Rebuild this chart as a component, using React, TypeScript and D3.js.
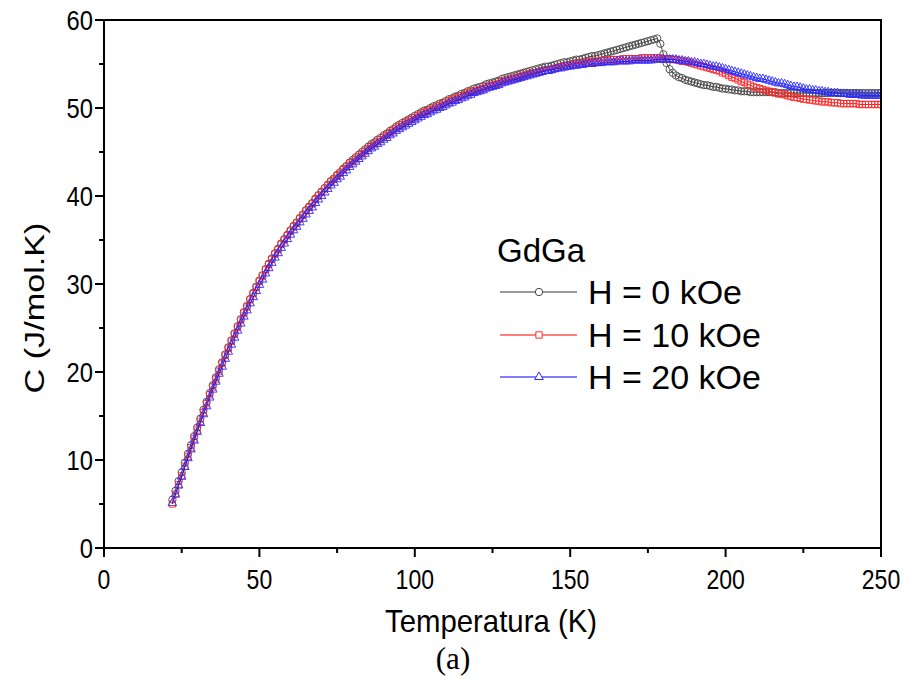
import React from 'react';
import * as d3 from 'd3';

// Measurement grid (K), one point per kelvin from 22 K to 250 K
const temperatures: number[] = d3.range(22, 251);

// C (J/mol.K), H = 0 kOe
const cH0: number[] = [
  5.5, 6.5, 7.6, 8.6, 9.7, 10.7, 11.7, 12.7,
  13.7, 14.7, 15.7, 16.6, 17.6, 18.5, 19.4, 20.3, 21.1, 22.0,
  22.8, 23.6, 24.4, 25.2, 26.0, 26.8, 27.5, 28.3, 29.0, 29.7,
  30.4, 31.0, 31.7, 32.3, 32.9, 33.5, 34.0, 34.6, 35.1, 35.6,
  36.1, 36.6, 37.0, 37.5, 37.9, 38.4, 38.8, 39.2, 39.7, 40.1,
  40.5, 40.9, 41.3, 41.7, 42.0, 42.4, 42.7, 43.1, 43.4, 43.8,
  44.1, 44.4, 44.7, 45.0, 45.3, 45.6, 45.9, 46.1, 46.4, 46.6,
  46.9, 47.1, 47.4, 47.6, 47.9, 48.1, 48.3, 48.5, 48.7, 48.9,
  49.1, 49.3, 49.5, 49.7, 49.8, 50.0, 50.2, 50.3, 50.5, 50.6,
  50.8, 51.0, 51.1, 51.3, 51.4, 51.6, 51.7, 51.9, 52.0, 52.2,
  52.3, 52.4, 52.5, 52.7, 52.8, 52.9, 53.0, 53.1, 53.3, 53.4,
  53.5, 53.6, 53.7, 53.8, 53.9, 54.0, 54.1, 54.2, 54.3, 54.4,
  54.5, 54.6, 54.7, 54.7, 54.8, 54.9, 55.0, 55.1, 55.2, 55.2,
  55.3, 55.4, 55.5, 55.5, 55.6, 55.7, 55.8, 55.9, 55.9, 56.0,
  56.1, 56.2, 56.3, 56.4, 56.5, 56.6, 56.7, 56.8, 56.9, 57.0,
  57.1, 57.2, 57.3, 57.4, 57.5, 57.6, 57.7, 57.8, 57.9, 57.3,
  56.1, 55.1, 54.4, 54.0, 53.7, 53.5, 53.4, 53.2, 53.1, 53.0,
  52.9, 52.8, 52.7, 52.6, 52.6, 52.5, 52.4, 52.4, 52.3, 52.2,
  52.2, 52.1, 52.1, 52.0, 52.0, 51.9, 51.9, 51.9, 51.8, 51.8,
  51.8, 51.8, 51.8, 51.8, 51.8, 51.8, 51.8, 51.7, 51.7, 51.7,
  51.7, 51.7, 51.7, 51.7, 51.7, 51.7, 51.7, 51.7, 51.7, 51.7,
  51.7, 51.7, 51.7, 51.7, 51.7, 51.7, 51.7, 51.7, 51.7, 51.7,
  51.7, 51.7, 51.7, 51.7, 51.7, 51.7, 51.7, 51.7, 51.7, 51.7,
  51.7,
];

// H = 10 kOe
const cH10: number[] = [
  5.0, 6.1, 7.2, 8.2, 9.3, 10.4, 11.4, 12.4,
  13.4, 14.4, 15.4, 16.4, 17.4, 18.3, 19.2, 20.1, 21.0, 21.9,
  22.7, 23.5, 24.3, 25.1, 25.9, 26.7, 27.4, 28.2, 28.9, 29.6,
  30.3, 30.9, 31.6, 32.2, 32.8, 33.4, 33.9, 34.5, 35.0, 35.5,
  36.0, 36.5, 36.9, 37.4, 37.8, 38.3, 38.7, 39.1, 39.6, 40.0,
  40.4, 40.8, 41.2, 41.6, 41.9, 42.3, 42.6, 43.0, 43.3, 43.6,
  43.9, 44.2, 44.5, 44.8, 45.1, 45.4, 45.7, 45.9, 46.2, 46.4,
  46.7, 46.9, 47.2, 47.4, 47.7, 47.9, 48.1, 48.3, 48.5, 48.7,
  48.9, 49.1, 49.3, 49.5, 49.6, 49.8, 50.0, 50.1, 50.3, 50.4,
  50.6, 50.8, 50.9, 51.1, 51.2, 51.4, 51.5, 51.7, 51.8, 51.9,
  52.0, 52.1, 52.2, 52.4, 52.5, 52.6, 52.7, 52.8, 53.0, 53.1,
  53.2, 53.3, 53.4, 53.5, 53.6, 53.7, 53.8, 53.9, 54.0, 54.0,
  54.1, 54.2, 54.3, 54.3, 54.4, 54.5, 54.6, 54.7, 54.8, 54.8,
  54.9, 55.0, 55.0, 55.1, 55.1, 55.2, 55.2, 55.3, 55.3, 55.3,
  55.4, 55.4, 55.4, 55.5, 55.5, 55.5, 55.5, 55.6, 55.6, 55.6,
  55.6, 55.6, 55.6, 55.7, 55.7, 55.7, 55.7, 55.7, 55.7, 55.7,
  55.6, 55.6, 55.6, 55.5, 55.5, 55.4, 55.3, 55.3, 55.2, 55.1,
  55.0, 54.9, 54.8, 54.7, 54.6, 54.5, 54.4, 54.3, 54.2, 54.0,
  53.9, 53.7, 53.5, 53.4, 53.2, 53.0, 52.9, 52.7, 52.6, 52.4,
  52.3, 52.2, 52.1, 52.0, 51.9, 51.8, 51.7, 51.6, 51.6, 51.5,
  51.4, 51.3, 51.2, 51.2, 51.1, 51.0, 51.0, 50.9, 50.9, 50.8,
  50.8, 50.7, 50.7, 50.7, 50.6, 50.6, 50.6, 50.5, 50.5, 50.5,
  50.5, 50.5, 50.5, 50.4, 50.4, 50.4, 50.4, 50.4, 50.4, 50.4,
  50.4,
];

// H = 20 kOe
const cH20: number[] = [
  5.1, 6.1, 7.1, 8.1, 9.2, 10.2, 11.2, 12.2,
  13.2, 14.2, 15.2, 16.1, 17.1, 18.0, 18.9, 19.8, 20.6, 21.5,
  22.3, 23.1, 23.9, 24.7, 25.5, 26.3, 27.0, 27.8, 28.5, 29.2,
  29.9, 30.5, 31.2, 31.8, 32.4, 33.0, 33.5, 34.1, 34.6, 35.1,
  35.6, 36.1, 36.5, 37.0, 37.4, 37.9, 38.3, 38.7, 39.2, 39.6,
  40.0, 40.4, 40.8, 41.2, 41.5, 41.9, 42.2, 42.6, 42.9, 43.3,
  43.6, 43.9, 44.2, 44.5, 44.8, 45.1, 45.4, 45.6, 45.9, 46.1,
  46.4, 46.6, 46.9, 47.1, 47.4, 47.6, 47.8, 48.0, 48.2, 48.4,
  48.6, 48.8, 49.0, 49.2, 49.3, 49.5, 49.7, 49.8, 50.0, 50.1,
  50.3, 50.5, 50.6, 50.8, 50.9, 51.1, 51.2, 51.4, 51.5, 51.7,
  51.8, 51.9, 52.0, 52.2, 52.3, 52.4, 52.5, 52.6, 52.8, 52.9,
  53.0, 53.1, 53.2, 53.3, 53.4, 53.5, 53.6, 53.7, 53.8, 53.9,
  54.0, 54.1, 54.2, 54.2, 54.3, 54.4, 54.5, 54.5, 54.6, 54.7,
  54.7, 54.8, 54.8, 54.9, 54.9, 55.0, 55.0, 55.0, 55.1, 55.1,
  55.1, 55.2, 55.2, 55.2, 55.2, 55.3, 55.3, 55.3, 55.3, 55.3,
  55.4, 55.4, 55.4, 55.4, 55.4, 55.4, 55.4, 55.5, 55.5, 55.5,
  55.5, 55.5, 55.5, 55.5, 55.5, 55.4, 55.4, 55.3, 55.3, 55.2,
  55.2, 55.1, 55.0, 55.0, 54.9, 54.8, 54.7, 54.7, 54.6, 54.5,
  54.4, 54.3, 54.2, 54.1, 54.0, 53.9, 53.8, 53.7, 53.6, 53.5,
  53.4, 53.3, 53.3, 53.2, 53.1, 53.0, 52.9, 52.8, 52.8, 52.7,
  52.6, 52.5, 52.4, 52.4, 52.3, 52.2, 52.1, 52.1, 52.0, 52.0,
  51.9, 51.9, 51.8, 51.8, 51.7, 51.7, 51.7, 51.6, 51.6, 51.6,
  51.5, 51.5, 51.5, 51.5, 51.4, 51.4, 51.4, 51.4, 51.4, 51.4,
  51.4,
];

const seriesNames = ['H = 0 kOe', 'H = 10 kOe', 'H = 20 kOe'];
const legendTitle = 'GdGa';
const xMajorTicks = [0, 50, 100, 150, 200, 250];
const xMinorTicks = [25, 75, 125, 175, 225];
const yMajorTicks = [0, 10, 20, 30, 40, 50, 60];
const yMinorTicks = [5, 15, 25, 35, 45, 55];
const xTitle = 'Temperatura (K)';
const yTitle = 'C (J/mol.K)';
const caption = '(a)';

const W = 904;
const H = 677;
const PL = 104;
const PR = 881;
const PT = 20;
const PB = 548;
const FONT = "'Liberation Sans', Arial, Helvetica, sans-serif";

const styles = [
  { color: '#444444', line: '#333333', symbol: d3.symbolCircle, size: 42 },
  { color: '#ff2a2a', line: '#ff0000', symbol: d3.symbolSquare, size: 40 },
  { color: '#2a2aff', line: '#0000ff', symbol: d3.symbolTriangle, size: 32 },
];

export default function App() {
  const x = d3.scaleLinear().domain([0, 250]).range([PL, PR]);
  const y = d3.scaleLinear().domain([0, 60]).range([PB, PT]);
  const allSeries = [cH0, cH10, cH20];

  const line = d3
    .line<number>()
    .x((_, i) => x(temperatures[i]))
    .y((d) => y(d));

  const legendRowsY = [292, 335, 377];

  return (
    <svg
      width={W}
      height={H}
      style={{ position: 'absolute', left: 0, top: 0, background: '#fff' }}
      xmlns="http://www.w3.org/2000/svg"
    >
      <rect x={0} y={0} width={W} height={H} fill="#fff" />
      <defs>
        <clipPath id="plotClip">
          <rect x={PL} y={PT - 6} width={PR - PL} height={PB - PT + 6} />
        </clipPath>
      </defs>

      {/* series */}
      <g clipPath="url(#plotClip)">
        {allSeries.map((vals, si) => {
          const st = styles[si];
          const sym = d3.symbol().type(st.symbol).size(st.size)();
          return (
            <g key={si}>
              <path d={line(vals) || ''} fill="none" stroke={st.line} strokeWidth={0.9} />
              {vals.map((v, i) => (
                <path
                  key={i}
                  d={sym || ''}
                  transform={`translate(${x(temperatures[i])},${y(v)})`}
                  fill="none"
                  stroke={st.color}
                  strokeWidth={0.9}
                />
              ))}
            </g>
          );
        })}
      </g>

      {/* frame */}
      <rect x={PL} y={PT} width={PR - PL} height={PB - PT} fill="none" stroke="#000" strokeWidth={2} />

      {/* x ticks */}
      {xMajorTicks.map((t) => (
        <g key={'xM' + t}>
          <line x1={x(t)} x2={x(t)} y1={PB} y2={PB + 9} stroke="#000" strokeWidth={2} />
          <text
            x={x(t)}
            y={589}
            textAnchor="middle"
            fontFamily={FONT}
            fontSize={28}
            textLength={String(t).length * 12.8}
            lengthAdjust="spacingAndGlyphs"
          >
            {t}
          </text>
        </g>
      ))}
      {xMinorTicks.map((t) => (
        <line key={'xm' + t} x1={x(t)} x2={x(t)} y1={PB} y2={PB + 5} stroke="#000" strokeWidth={2} />
      ))}

      {/* y ticks */}
      {yMajorTicks.map((t) => (
        <g key={'yM' + t}>
          <line x1={PL - 9} x2={PL} y1={y(t)} y2={y(t)} stroke="#000" strokeWidth={2} />
          <text
            x={93}
            y={y(t) + 10}
            textAnchor="end"
            fontFamily={FONT}
            fontSize={28}
            textLength={String(t).length * 13.2}
            lengthAdjust="spacingAndGlyphs"
          >
            {t}
          </text>
        </g>
      ))}
      {yMinorTicks.map((t) => (
        <line key={'ym' + t} x1={PL - 5} x2={PL} y1={y(t)} y2={y(t)} stroke="#000" strokeWidth={2} />
      ))}

      {/* axis titles */}
      <text
        x={491}
        y={632}
        textAnchor="middle"
        fontFamily={FONT}
        fontSize={32}
        textLength={212}
        lengthAdjust="spacingAndGlyphs"
      >
        {xTitle}
      </text>
      <text
        transform={`translate(44,${308}) rotate(-90)`}
        textAnchor="middle"
        fontFamily={FONT}
        fontSize={27}
        textLength={171}
        lengthAdjust="spacingAndGlyphs"
      >
        {yTitle}
      </text>

      {/* legend */}
      <text x={497} y={262} fontFamily={FONT} fontSize={33}>
        {legendTitle}
      </text>
      {seriesNames.map((name, si) => {
        const st = styles[si];
        const ly = legendRowsY[si];
        const sym = d3.symbol().type(st.symbol).size(st.size)();
        return (
          <g key={'lg' + si}>
            <line x1={500} x2={577} y1={ly} y2={ly} stroke={st.line} strokeWidth={1} />
            <path d={sym || ''} transform={`translate(539,${ly})`} fill="#fff" stroke={st.color} strokeWidth={1} />
            <text x={588} y={ly + 12} fontFamily={FONT} fontSize={34}>
              {name}
            </text>
          </g>
        );
      })}

      {/* caption */}
      <text
        x={453}
        y={669}
        textAnchor="middle"
        fontFamily="'Liberation Serif', 'Times New Roman', serif"
        fontSize={31}
      >
        {caption}
      </text>
    </svg>
  );
}
